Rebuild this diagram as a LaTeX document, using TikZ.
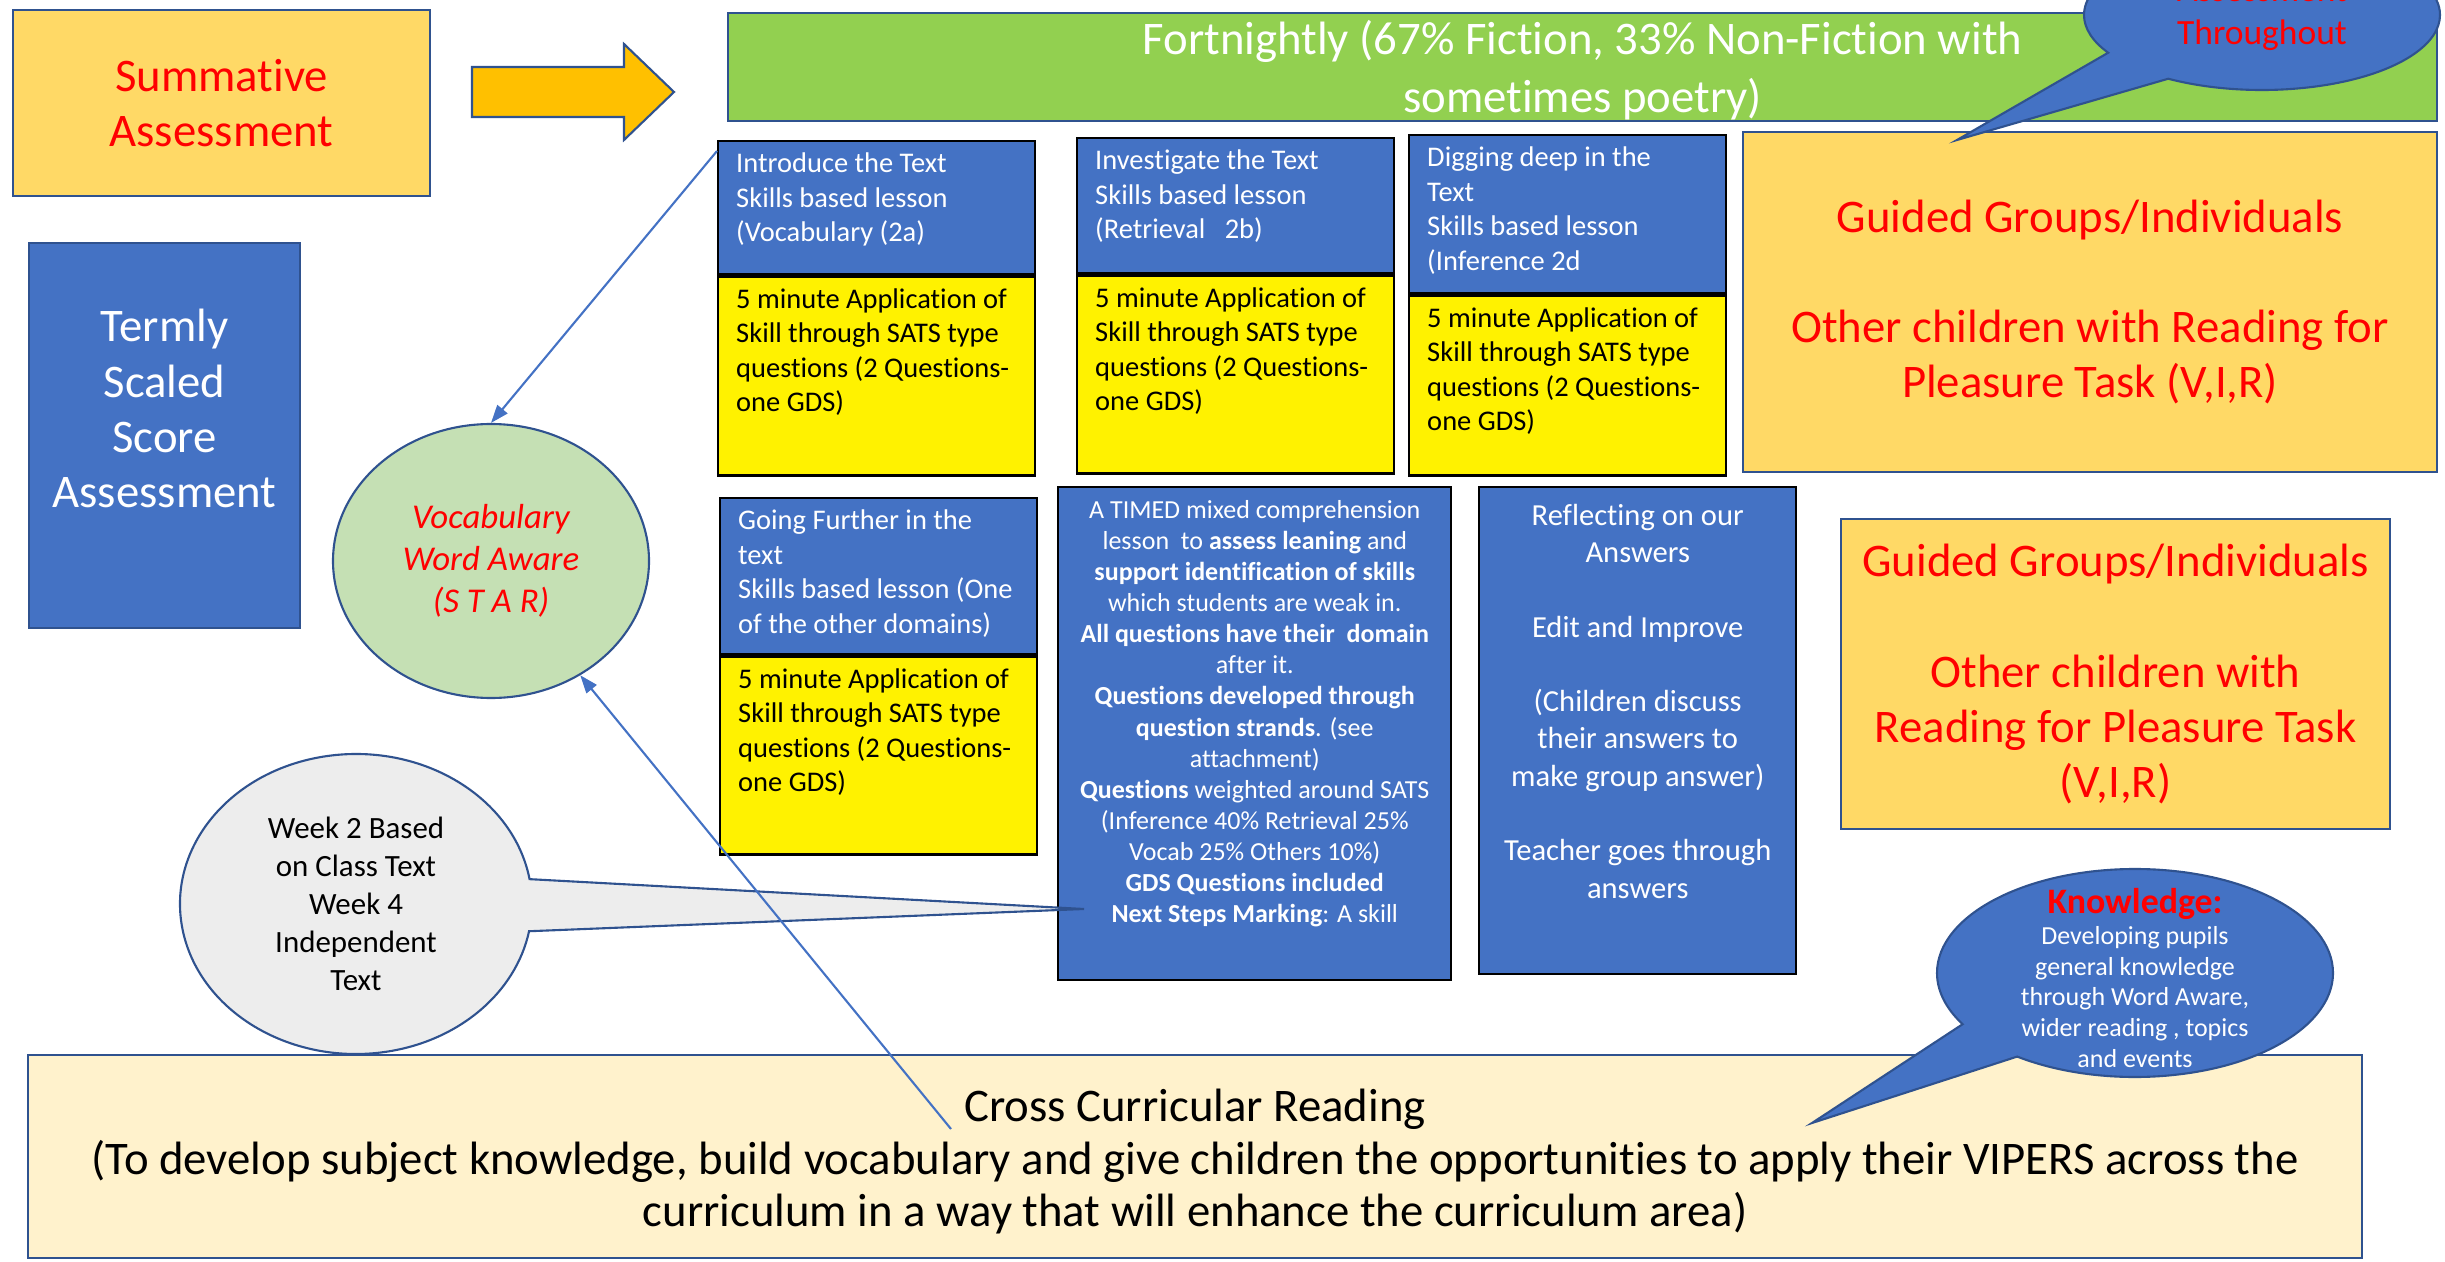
\documentclass[tikz,border=0pt]{standalone}
\usepackage{fontspec}
\setmainfont{Carlito}[Ligatures=NoCommon]
\usetikzlibrary{positioning,shapes.geometric,shapes.callouts,arrows.meta}

\definecolor{officeblue}{HTML}{4472C4}
\definecolor{edgeblue}{HTML}{2F528F}
\definecolor{fortgreen}{HTML}{92D050}
\definecolor{goldfill}{HTML}{FFD966}
\definecolor{arrowgold}{HTML}{FFC000}
\definecolor{creamfill}{HTML}{FFF2CC}
\definecolor{vocabgreen}{HTML}{C5E0B4}
\definecolor{weekgrey}{HTML}{EDEDED}

\newcommand{\partbox}[2]{\parbox[t][#1][t]{2.81cm}{\raggedright #2}}
\newcommand{\skillcheck}{5 minute Application of\\Skill through SATS type\\questions (2 Questions-\\one GDS)}

\tikzset{
  box/.style={draw=edgeblue, line width=0.6pt, inner sep=0pt, align=center},
  bluepart/.style={fill=officeblue, draw=black, line width=0.7pt, text=white, inner xsep=0.18cm, inner ysep=0.12cm, anchor=north west, font=\fontsize{8.1}{9.8}\selectfont},
  yellowpart/.style={bluepart, fill=yellow, text=black},
  bigred/.style={text=red, font=\fontsize{13.3}{15.7}\selectfont},
  bubble/.style={ellipse callout, draw=edgeblue, line width=0.6pt, inner sep=0pt, align=center},
  link/.style={draw=officeblue, line width=0.6pt, -{Triangle[length=1.8mm,width=1.3mm]}}
}

\begin{document}
\begin{tikzpicture}
\useasboundingbox (0,0) rectangle (24.45,-12.62);

% top row
\node[box, fill=goldfill, bigred, anchor=north west, minimum width=4.17cm, minimum height=1.86cm] (summ) at (0.12,-0.09) {Summative\\Assessment};
\draw[draw=edgeblue, line width=0.6pt, fill=arrowgold] (4.72,-0.67) -- (6.24,-0.67) -- (6.24,-0.44) -- (6.74,-0.92) -- (6.24,-1.40) -- (6.24,-1.17) -- (4.72,-1.17) -- cycle;
\node[box, fill=fortgreen, anchor=north west, minimum width=17.09cm, minimum height=1.08cm] (fort) at (7.27,-0.12) {};
\node[text=white, align=center, font=\fontsize{13.3}{16.5}\selectfont] (forttext) at ([yshift=-0.03cm]fort.center) {Fortnightly (67\% Fiction, 33\% Non-Fiction with\\sometimes poetry)};

\node[box, fill=officeblue, anchor=north west, minimum width=2.71cm, minimum height=3.85cm] (termly) at (0.28,-2.42) {};
\node[text=white, align=center, font=\fontsize{13.3}{15.7}\selectfont] (termlytext) at ([yshift=0.27cm]termly.center) {Termly\\Scaled\\Score\\Assessment};

\node[box, ellipse, fill=vocabgreen, minimum width=3.16cm, minimum height=2.74cm, text=red, font=\fontsize{9.9}{12}\selectfont\itshape] (vocab) at (4.91,-5.61) {Vocabulary\\Word Aware\\(S T A R)};

% weekly lessons
\node[bluepart] (intro) at (7.17,-1.40) {\partbox{1.09cm}{Introduce the Text\\Skills based lesson\\(Vocabulary (2a)}};
\node[yellowpart, below=0pt of intro] (introapp) {\partbox{1.75cm}{\skillcheck}};

\node[bluepart] (invest) at (10.76,-1.37) {\partbox{1.11cm}{Investigate the Text\\Skills based lesson\\(Retrieval~~~2b)}};
\node[yellowpart, below=0pt of invest] (investapp) {\partbox{1.74cm}{\skillcheck}};

\node[bluepart] (dig) at (14.08,-1.34) {\partbox{1.34cm}{Digging deep in the\\Text\\Skills based lesson\\(Inference 2d}};
\node[yellowpart, below=0pt of dig] (digapp) {\partbox{1.56cm}{\skillcheck}};

\node[bluepart] (further) at (7.19,-4.97) {\partbox{1.32cm}{Going Further in the\\text\\Skills based lesson (One\\of the other domains)}};
\node[yellowpart, below=0pt of further] (furtherapp) {\partbox{1.74cm}{\skillcheck}};

\node[box, fill=goldfill, bigred, anchor=north west, minimum width=6.94cm, minimum height=3.40cm] (guided) at (17.42,-1.31) {Guided Groups/Individuals\\[15.7pt]Other children with Reading for\\Pleasure Task (V,I,R)};

\node[box, draw=black, line width=0.7pt, fill=officeblue, text=white, anchor=north west, inner xsep=0.1cm, inner ysep=0.13cm, font=\fontsize{7.4}{8.85}\selectfont] (timed) at (10.57,-4.86) {\parbox[t][4.67cm][t]{3.73cm}{\centering
A TIMED mixed comprehension\\
lesson~ to \textbf{assess leaning} and\\
\textbf{support identification of skills}\\
which students are weak in.\\
\textbf{All questions have their~ domain}\\
after it.\\
\textbf{Questions developed through}\\
\textbf{question strands}. (see\\
attachment)\\
\textbf{Questions} weighted around SATS\\
(Inference 40\% Retrieval 25\%\\
Vocab 25\% Others 10\%)\\
\textbf{GDS Questions included}\\
\textbf{Next Steps Marking}: A skill}};

\node[box, draw=black, line width=0.7pt, fill=officeblue, text=white, anchor=north west, inner xsep=0.1cm, inner ysep=0.17cm, font=\fontsize{8.7}{10.6}\selectfont] (reflect) at (14.78,-4.86) {\parbox[t][4.53cm][t]{2.97cm}{\centering
Reflecting on our\\Answers\\[10.6pt]
Edit and Improve\\[10.6pt]
(Children discuss\\their answers to\\make group answer)\\[10.6pt]
Teacher goes through\\answers}};

\node[box, fill=goldfill, bigred, anchor=north west, minimum width=5.49cm, minimum height=3.10cm] (guidedtwo) at (18.40,-5.18) {Guided Groups/Individuals\\[15.7pt]Other children with\\Reading for Pleasure Task\\(V,I,R)};

% bottom band
\node[box, fill=creamfill, anchor=north west, minimum width=23.34cm, minimum height=2.03cm] (cross) at (0.27,-10.54) {};
\node[align=center, font=\fontsize{13.3}{15}\selectfont] (crosstext) at ([yshift=-0.05cm]cross.center) {Cross Curricular Reading\\(To develop subject knowledge, build vocabulary and give children the opportunities to apply their VIPERS across the\\curriculum in a way that will enhance the curriculum area)};

% callouts
\coordinate (weektip) at (10.84,-9.09);
\node[bubble, fill=weekgrey, minimum width=3.52cm, minimum height=3.00cm, callout absolute pointer={(weektip)}, callout pointer arc=20, font=\fontsize{8.8}{10.8}\selectfont] (week) at (3.56,-9.04) {Week 2 Based\\on Class Text\\Week 4\\Independent\\Text};

\coordinate (knowtip) at (18.12,-11.23);
\node[bubble, fill=officeblue, minimum width=3.96cm, minimum height=2.08cm, callout absolute pointer={(knowtip)}, callout pointer arc=24] (know) at (21.35,-9.73) {};
\node[text=white, align=center, font=\fontsize{7.4}{8.8}\selectfont] (knowtext) at ([yshift=-0.05cm]know.center) {{\color{red}\bfseries\fontsize{10.2}{11}\selectfont Knowledge:}\\Developing pupils\\general knowledge\\through Word Aware,\\wider reading , topics\\and events};

\coordinate (formtip) at (19.57,-1.40);
\node[bubble, fill=officeblue, text=red, minimum width=3.56cm, minimum height=1.50cm, callout absolute pointer={(formtip)}, callout pointer arc=28, font=\fontsize{10.1}{12.2}\selectfont] (form) at (22.62,-0.15) {Assessment\\Throughout};

% arrows to the vocabulary bubble
\coordinate (crosstail) at (9.51,-11.29);
\draw[link] ([yshift=-0.11cm]intro.north west) -- (vocab.north);
\draw[link] (crosstail) -- (vocab.-52);
\end{tikzpicture}
\end{document}
